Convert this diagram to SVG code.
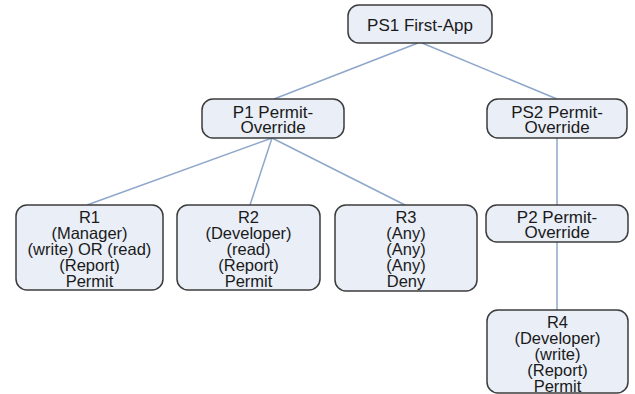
<svg xmlns="http://www.w3.org/2000/svg" width="635" height="394" viewBox="0 0 635 394">
<style>
.box{fill:#e9eef7;stroke:#3c3c3c;stroke-width:1.5}
.t{font-family:"Liberation Sans",Arial,sans-serif;font-size:16.5px;fill:#1a1a1a;text-anchor:middle}
.tl{font-family:"Liberation Sans",Arial,sans-serif;font-size:17px;fill:#1a1a1a;text-anchor:middle}
.c{stroke:#8ea7cb;stroke-width:1.5;fill:none}
</style>
<rect width="635" height="394" fill="#ffffff"/>
<g id="connectors">
<line class="c" x1="418" y1="43" x2="274" y2="99"/>
<line class="c" x1="422" y1="43" x2="557" y2="99"/>
<line class="c" x1="272" y1="138" x2="87" y2="205"/>
<line class="c" x1="272" y1="138" x2="250" y2="205"/>
<line class="c" x1="272" y1="138" x2="405" y2="205"/>
<line class="c" x1="557" y1="138" x2="557" y2="205"/>
<line class="c" x1="557" y1="242" x2="557" y2="310"/>
</g>
<g id="PS1">
<rect class="box" x="348" y="5" width="144" height="38" rx="11"/>
<text class="tl" x="420" y="30.5">PS1 First-App</text>
</g>
<g id="P1">
<rect class="box" x="202" y="99" width="142" height="39" rx="11"/>
<text class="tl" x="273" y="118">P1 Permit-</text>
<text class="tl" x="273" y="133">Override</text>
</g>
<g id="PS2">
<rect class="box" x="487" y="99" width="140" height="39" rx="11"/>
<text class="tl" x="557" y="118">PS2 Permit-</text>
<text class="tl" x="557" y="133">Override</text>
</g>
<g id="R1">
<rect class="box" x="16" y="205" width="147" height="85" rx="11"/>
<text class="t" x="89.5" y="222.5">R1</text>
<text class="t" x="89.5" y="238.5">(Manager)</text>
<text class="t" x="89.5" y="254.5">(write) OR (read)</text>
<text class="t" x="89.5" y="270.5">(Report)</text>
<text class="t" x="89.5" y="286.5">Permit</text>
</g>
<g id="R2">
<rect class="box" x="177" y="205" width="143" height="85" rx="11"/>
<text class="t" x="248.5" y="222.5">R2</text>
<text class="t" x="248.5" y="238.5">(Developer)</text>
<text class="t" x="248.5" y="254.5">(read)</text>
<text class="t" x="248.5" y="270.5">(Report)</text>
<text class="t" x="248.5" y="286.5">Permit</text>
</g>
<g id="R3">
<rect class="box" x="335" y="205" width="142" height="86" rx="11"/>
<text class="t" x="406" y="222.5">R3</text>
<text class="t" x="406" y="238.5">(Any)</text>
<text class="t" x="406" y="254.5">(Any)</text>
<text class="t" x="406" y="270.5">(Any)</text>
<text class="t" x="406" y="286.5">Deny</text>
</g>
<g id="P2">
<rect class="box" x="486" y="205" width="142" height="37" rx="11"/>
<text class="tl" x="557" y="223">P2 Permit-</text>
<text class="tl" x="557" y="238">Override</text>
</g>
<g id="R4">
<rect class="box" x="487" y="310" width="141" height="83" rx="11"/>
<text class="t" x="557.5" y="327.5">R4</text>
<text class="t" x="557.5" y="343.5">(Developer)</text>
<text class="t" x="557.5" y="359.5">(write)</text>
<text class="t" x="557.5" y="375.5">(Report)</text>
<text class="t" x="557.5" y="391.5">Permit</text>
</g>
</svg>
